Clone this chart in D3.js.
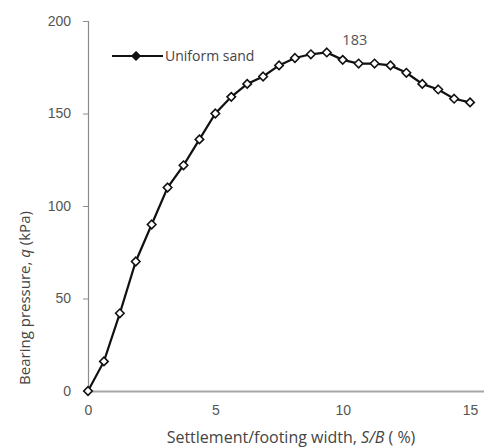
<!DOCTYPE html>
<html>
<head>
<meta charset="utf-8">
<script src="https://cdn.jsdelivr.net/npm/d3@7"></script>
<style>
  html, body { margin: 0; padding: 0; background: #fff; }
  svg { display: block; font-family: "Open Sans", "Liberation Sans", sans-serif; }
</style>
</head>
<body>
<svg id="chart" width="484" height="447"></svg>
<script>
// Settlement ratio S/B (%) and bearing pressure q (kPa) for uniform sand
const settlement = [0, 0.625, 1.25, 1.875, 2.5, 3.125, 3.75, 4.375, 5, 5.625, 6.25, 6.875,
  7.5, 8.125, 8.75, 9.375, 10, 10.625, 11.25, 11.875, 12.5, 13.125, 13.75, 14.375, 15];
const pressure = [0, 16, 42, 70, 90, 110, 122, 136, 150, 159, 166, 170,
  176, 180, 182, 183, 179, 177, 177, 176, 172, 166, 163, 158, 156];
const xTicks = [0, 5, 10, 15];
const yTicks = [0, 50, 100, 150, 200];
const seriesName = "Uniform sand";
const peakValue = 183;

const svg = d3.select("#chart");
const x = d3.scaleLinear().domain([0, 16]).range([88, 88 + 16 * 25.47]);
const y = d3.scaleLinear().domain([0, 200]).range([391, 21]);
const axisGrey = "#8c8c8c";
const textGrey = "#555";

// y axis
const gy = svg.append("g").attr("transform", `translate(${x(0)},0)`)
  .call(d3.axisLeft(y).tickValues(yTicks).tickSize(5).tickPadding(12));
gy.select(".domain").attr("stroke", axisGrey).attr("stroke-width", 1.2);
gy.selectAll(".tick line").attr("stroke", axisGrey);
gy.selectAll(".tick text").attr("fill", textGrey).attr("font-size", 14);

// x axis
const gx = svg.append("g").attr("transform", `translate(0,${y(0)})`)
  .call(d3.axisBottom(x).tickValues(xTicks).tickSize(0).tickPadding(14));
gx.select(".domain").attr("stroke", "#a6a6a6").attr("stroke-width", 2);
gx.selectAll(".tick text").attr("fill", textGrey).attr("font-size", 14);

// axis titles
const xt = svg.append("text").attr("x", 291).attr("y", 443)
  .attr("text-anchor", "middle").attr("fill", "#444").attr("font-size", 16);
xt.append("tspan").text("Settlement/footing width, ");
xt.append("tspan").attr("font-style", "italic").text("S/B");
xt.append("tspan").text(" ( %)");

const yt = svg.append("text").attr("transform", "translate(30,298) rotate(-90)")
  .attr("text-anchor", "middle").attr("fill", "#444").attr("font-size", 15);
yt.append("tspan").text("Bearing pressure, ");
yt.append("tspan").attr("font-style", "italic").text("q");
yt.append("tspan").text(" (kPa)");

// series
const pts = settlement.map((s, i) => [s, pressure[i]]);
svg.append("path").datum(pts)
  .attr("fill", "none").attr("stroke", "#111").attr("stroke-width", 2.2)
  .attr("d", d3.line().x(d => x(d[0])).y(d => y(d[1])));

const diamond = d3.symbol().type(d3.symbolDiamond2).size(46);
svg.append("g").selectAll("path").data(pts).join("path")
  .attr("transform", d => `translate(${x(d[0])},${y(d[1])})`)
  .attr("d", diamond)
  .attr("fill", "#fff").attr("stroke", "#111").attr("stroke-width", 1.6);

// peak label
const peakIdx = pressure.indexOf(peakValue);
svg.append("text").attr("x", x(settlement[peakIdx]) + 28).attr("y", y(peakValue) - 7)
  .attr("text-anchor", "middle").attr("fill", textGrey).attr("font-size", 14.5)
  .text(peakValue);

// legend
const lg = svg.append("g").attr("transform", "translate(112,56)");
lg.append("line").attr("x1", 0).attr("x2", 51).attr("y1", 0).attr("y2", 0)
  .attr("stroke", "#111").attr("stroke-width", 2.2);
lg.append("path").attr("transform", "translate(24,0)").attr("d", diamond)
  .attr("fill", "#111").attr("stroke", "#111").attr("stroke-width", 1.2);
lg.append("text").attr("x", 53).attr("y", 5).attr("fill", "#444")
  .attr("font-size", 14).text(seriesName);
</script>
</body>
</html>
